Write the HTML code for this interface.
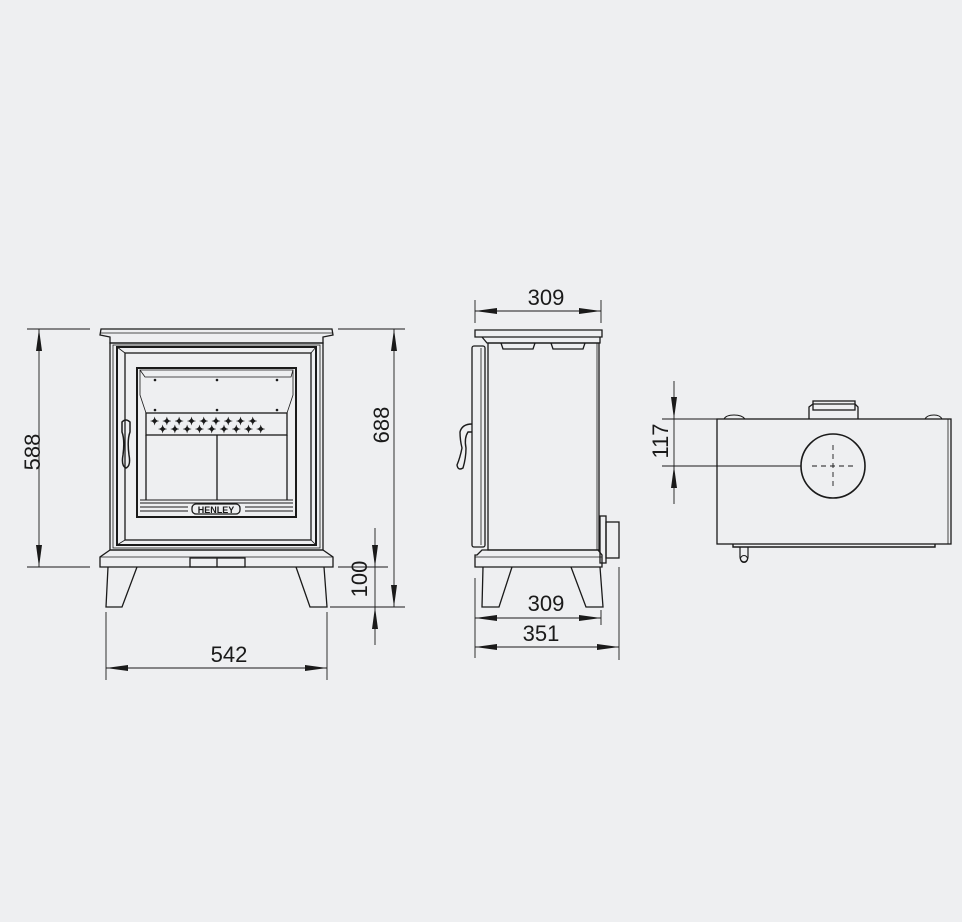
<!DOCTYPE html>
<html><head><meta charset="utf-8"><style>
html,body{margin:0;padding:0;background:#eeeff1}
svg{display:block}
text{font-family:"Liberation Sans",sans-serif;font-size:22px;fill:#1a1a1a}
</style></head><body>
<svg width="962" height="922" viewBox="0 0 962 922" xmlns="http://www.w3.org/2000/svg">
<defs>
<marker id="a" viewBox="0 0 10 6" refX="10" refY="3" markerWidth="22" markerHeight="6" markerUnits="userSpaceOnUse" orient="auto-start-reverse" preserveAspectRatio="none"><path d="M0,0 L10,3 L0,6 z" fill="#1a1a1a"/></marker>
</defs>
<rect width="962" height="922" fill="#eeeff1"/>
<g fill="none" stroke="#1a1a1a" stroke-width="1.3">
<path d="M101,329 H332 L333,335 L323,337 V343 H110 V337 L100,335 Z"/>
<line x1="101" y1="333" x2="332" y2="333" stroke-width="0.8"/>
<rect x="110" y="343" width="213" height="207"/>
<rect x="113" y="345" width="207" height="203" stroke-width="0.8"/>
<rect x="117" y="347" width="199" height="198" stroke-width="2"/>
<rect x="125" y="353" width="186" height="187"/>
<line x1="117" y1="347" x2="125" y2="353" stroke-width="0.8"/>
<line x1="316" y1="347" x2="311" y2="353" stroke-width="0.8"/>
<line x1="117" y1="545" x2="125" y2="540" stroke-width="0.8"/>
<line x1="316" y1="545" x2="311" y2="540" stroke-width="0.8"/>
<rect x="137" y="368" width="159" height="149" stroke-width="2"/>
<path d="M140,370 H293 L291,377 H145 Z" stroke-width="0.8"/>
<path d="M140,370 L140,395 L146,413 M293,370 L293,395 L287,413" stroke-width="0.8"/>
<rect x="146" y="413" width="141" height="22"/>
<line x1="146" y1="435" x2="146" y2="500"/>
<line x1="287" y1="435" x2="287" y2="500"/>
<line x1="217" y1="435" x2="217" y2="500"/>
<path d="M140,500 H293 M140,503 H293" stroke-width="1"/>
<path d="M140,507 H188 M140,511 H188 M245,507 H293 M245,511 H293" stroke-width="1"/>
<rect x="192" y="504" width="48" height="10" rx="4" fill="#eeeff1"/>
<path d="M122,422 Q126,418 130,422 L130,432 Q127,440 129,455 Q131,466 126,468 Q121,466 123,455 Q125,440 122,432 Z" stroke-width="1.5"/>
<path d="M110,550 H323 L333,557 V567 H100 V557 Z"/>
<line x1="100" y1="557" x2="333" y2="557" stroke-width="0.8"/>
<rect x="190" y="558" width="55" height="9"/>
<line x1="217" y1="558" x2="217" y2="567"/>
<path d="M108,567 L106,607 H122 L137,567"/>
<path d="M296,567 L310,607 H327 L324,567"/>
<line x1="27" y1="329" x2="90" y2="329" stroke-width="0.9"/>
<line x1="27" y1="567" x2="90" y2="567" stroke-width="0.9"/>
<line x1="39" y1="329" x2="39" y2="567" marker-start="url(#a)" marker-end="url(#a)" stroke-width="0.9"/>
<line x1="338" y1="329" x2="405" y2="329" stroke-width="0.9"/>
<line x1="330" y1="607" x2="405" y2="607" stroke-width="0.9"/>
<line x1="338" y1="567" x2="388" y2="567" stroke-width="0.9"/>
<line x1="394" y1="329" x2="394" y2="607" marker-start="url(#a)" marker-end="url(#a)" stroke-width="0.9"/>
<line x1="375" y1="528" x2="375" y2="567" marker-end="url(#a)" stroke-width="0.9"/>
<line x1="375" y1="645" x2="375" y2="607" marker-end="url(#a)" stroke-width="0.9"/>
<line x1="375" y1="567" x2="375" y2="607" stroke-width="0.9"/>
<line x1="106" y1="612" x2="106" y2="680" stroke-width="0.9"/>
<line x1="327" y1="612" x2="327" y2="680" stroke-width="0.9"/>
<line x1="106" y1="668" x2="327" y2="668" marker-start="url(#a)" marker-end="url(#a)" stroke-width="0.9"/>

<path d="M475,330 H602 V337 H475 Z"/>
<path d="M482,337 L487,343 H600 V337"/>
<rect x="488" y="343" width="111" height="207"/>
<line x1="597" y1="343" x2="597" y2="550" stroke-width="0.8"/>
<path d="M501,343 L503,349 H533 L535,343 M551,343 L553,349 H583 L585,343"/>
<rect x="472" y="346" width="13" height="201" rx="2"/>
<line x1="481" y1="348" x2="481" y2="545" stroke-width="0.8"/>
<path d="M472,424 Q462,424 460,432 Q460,440 462,448 Q460,458 457,465 Q458,471 463,468 Q466,458 466,448 Q464,438 468,432 L472,432" stroke-width="1.4"/>
<path d="M477,555 L482,550 H598 L602,555 V567 H475 V555 Z"/>
<line x1="475" y1="557" x2="602" y2="557" stroke-width="0.8"/>
<path d="M483,567 L482,607 H499 L512,567"/>
<path d="M571,567 L586,607 H603 L600,567"/>
<rect x="600" y="516" width="6" height="47"/>
<rect x="606" y="522" width="13" height="36"/>
<line x1="475" y1="300" x2="475" y2="323" stroke-width="0.9"/>
<line x1="601" y1="300" x2="601" y2="323" stroke-width="0.9"/>
<line x1="475" y1="311" x2="601" y2="311" marker-start="url(#a)" marker-end="url(#a)" stroke-width="0.9"/>
<line x1="475" y1="578" x2="475" y2="658" stroke-width="0.9"/>
<line x1="619" y1="567" x2="619" y2="660" stroke-width="0.9"/>
<line x1="601" y1="610" x2="601" y2="625" stroke-width="0.9"/>
<line x1="475" y1="618" x2="601" y2="618" marker-start="url(#a)" marker-end="url(#a)" stroke-width="0.9"/>
<line x1="475" y1="647" x2="619" y2="647" marker-start="url(#a)" marker-end="url(#a)" stroke-width="0.9"/>

<rect x="717" y="419" width="234" height="125"/>
<line x1="948" y1="419" x2="948" y2="544" stroke-width="0.8"/>
<path d="M809,419 V407 L813,404 H855 L858,407 V419"/>
<rect x="813" y="401" width="42" height="9"/>
<path d="M724,419 Q726,415 734,415 Q742,415 745,419 M925,419 Q927,415 934,415 Q940,415 942,419" stroke-width="1"/>
<path d="M733,544 V547 H935 V544" stroke-width="1.4"/>
<path d="M740,547 V557 A4,5 0 0 0 748,557 V547" stroke-width="1.2"/>
<circle cx="744" cy="559" r="3.5" stroke-width="1"/>
<circle cx="833" cy="466" r="32" stroke-width="1.6"/>
<path d="M812,466 H854 M833,445 V487" stroke-width="0.9" stroke-dasharray="5,4"/>
<line x1="662" y1="466" x2="801" y2="466" stroke-width="0.9"/>
<line x1="662" y1="419" x2="717" y2="419" stroke-width="0.9"/>
<line x1="674" y1="381" x2="674" y2="419" marker-end="url(#a)" stroke-width="0.9"/>
<line x1="674" y1="504" x2="674" y2="466" marker-end="url(#a)" stroke-width="0.9"/>
<line x1="674" y1="419" x2="674" y2="466" stroke-width="0.9"/>
</g>
<g fill="#1a1a1a">
<circle cx="155" cy="380" r="1.3"/><circle cx="217" cy="380" r="1.3"/><circle cx="277" cy="380" r="1.3"/>
<circle cx="155" cy="410" r="1.3"/><circle cx="217" cy="410" r="1.3"/><circle cx="277" cy="410" r="1.3"/>
</g>
<text x="150" y="425" style="font-size:11px;font-weight:bold">✦ ✦ ✦ ✦ ✦ ✦ ✦ ✦ ✦</text>
<text x="158" y="433" style="font-size:11px;font-weight:bold">✦ ✦ ✦ ✦ ✦ ✦ ✦ ✦ ✦</text>
<text x="216" y="513" text-anchor="middle" style="font-size:9px;font-weight:bold">HENLEY</text>
<text transform="translate(40,452) rotate(-90)" text-anchor="middle">588</text>
<text transform="translate(389,425) rotate(-90)" text-anchor="middle">688</text>
<text transform="translate(367,579) rotate(-90)" text-anchor="middle">100</text>
<text x="229" y="662" text-anchor="middle">542</text>
<text x="546" y="305" text-anchor="middle">309</text>
<text x="546" y="611" text-anchor="middle">309</text>
<text x="541" y="641" text-anchor="middle">351</text>
<text transform="translate(668,441) rotate(-90)" text-anchor="middle">117</text>
</svg>
</body></html>
